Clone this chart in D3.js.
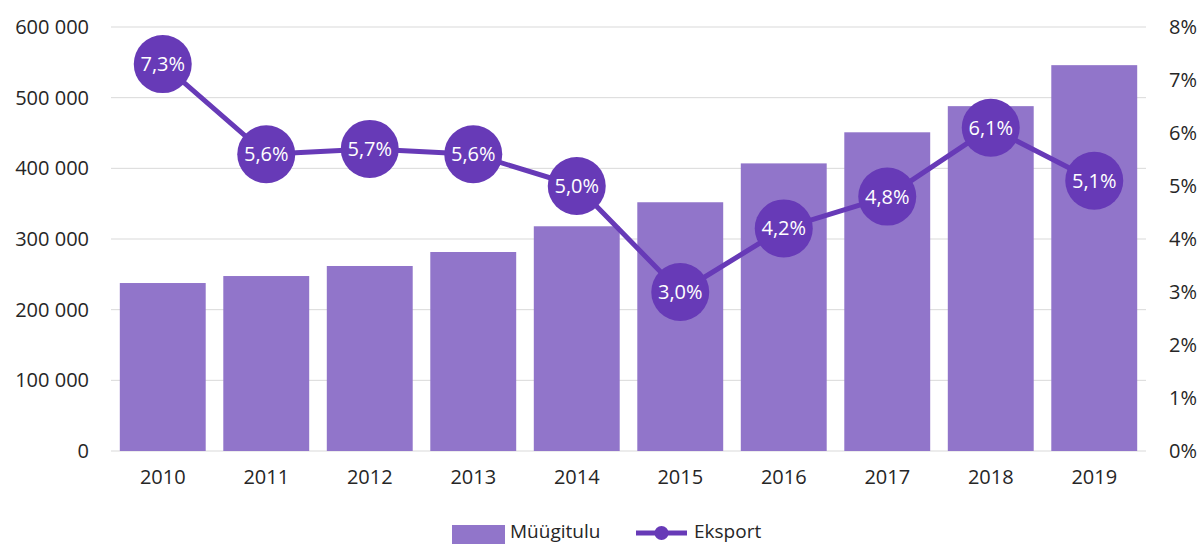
<!DOCTYPE html>
<html><head><meta charset="utf-8">
<script src="https://cdn.jsdelivr.net/npm/d3@7"></script>
<style>body{margin:0;background:#fff}svg{display:block;font-family:"Open Sans",sans-serif}</style>
</head><body><svg id="c" width="1200" height="544"></svg>
<script>
const years = ["2010","2011","2012","2013","2014","2015","2016","2017","2018","2019"];
const sales = [237700,247600,261800,281600,318000,352000,407000,451000,488000,546000];
const exportPct = [7.3,5.6,5.7,5.6,5.0,3.0,4.2,4.8,6.1,5.1];
const leftTicks = [0,100000,200000,300000,400000,500000,600000];
const rightTicks = [0,1,2,3,4,5,6,7,8];
const seriesNames = ["Müügitulu","Eksport"];

const svg = d3.select("#c");
const L=111, R=1146, T=27, B=451;
const x = d3.scaleBand().domain(years).range([L,R]).paddingInner(0.17).paddingOuter(0.085);
const y = d3.scaleLinear().domain([0,600000]).range([B,T]);
const y2 = d3.scaleLinear().domain([0,8]).range([B,T]);
const barColor="#9175ca", lineColor="#673ab7";
const fmt = v => d3.format(",")(v).replace(/,/g," ");

svg.append("g").selectAll("line").data(leftTicks).join("line")
  .attr("x1",L).attr("x2",R).attr("y1",d=>y(d)).attr("y2",d=>y(d))
  .attr("stroke","#d9d9d9").attr("stroke-width",1);

const ga = svg.append("g").attr("transform",`translate(${L},0)`)
  .call(d3.axisLeft(y).tickValues(leftTicks).tickFormat(fmt).tickSize(0).tickPadding(22));
ga.select(".domain").remove();
ga.selectAll("text").attr("font-size",20).attr("fill","#262626").attr("font-family","Open Sans");

const gr = svg.append("g").attr("transform",`translate(${R},0)`)
  .call(d3.axisRight(y2).tickValues(rightTicks).tickFormat(d=>d+"%").tickSize(0).tickPadding(23));
gr.select(".domain").remove();
gr.selectAll("text").attr("font-size",20).attr("fill","#262626").attr("font-family","Open Sans");

const gx = svg.append("g").attr("transform",`translate(0,${B})`)
  .call(d3.axisBottom(x).tickSize(0).tickPadding(19));
gx.select(".domain").remove();
gx.selectAll("text").attr("font-size",20).attr("fill","#262626").attr("font-family","Open Sans");

svg.append("g").selectAll("rect").data(years).join("rect")
  .attr("x",d=>x(d)).attr("width",x.bandwidth())
  .attr("y",(d,i)=>y(sales[i])).attr("height",(d,i)=>B-y(sales[i]))
  .attr("fill",barColor);

const cx = d=>x(d)+x.bandwidth()/2;
svg.append("path").datum(years)
  .attr("d",d3.line().x(d=>cx(d)).y((d,i)=>y2(exportPct[i])))
  .attr("fill","none").attr("stroke",lineColor).attr("stroke-width",5).attr("stroke-linejoin","round");

svg.append("g").selectAll("circle").data(years).join("circle")
  .attr("cx",cx).attr("cy",(d,i)=>y2(exportPct[i])).attr("r",29).attr("fill",lineColor);

svg.append("g").selectAll("text").data(years).join("text")
  .attr("x",cx).attr("y",(d,i)=>y2(exportPct[i])).attr("dy","0.35em")
  .attr("text-anchor","middle").attr("font-size",20).attr("fill","#fff")
  .text((d,i)=>d3.format(".1f")(exportPct[i]).replace(".",",")+"%");

// legend
const lg = svg.append("g");
lg.append("rect").attr("x",452).attr("y",525).attr("width",53).attr("height",19).attr("fill",barColor);
lg.append("text").attr("x",510).attr("y",538).attr("font-size",19).attr("fill","#262626").text(seriesNames[0]);
lg.append("line").attr("x1",636).attr("x2",687).attr("y1",533).attr("y2",533).attr("stroke",lineColor).attr("stroke-width",5);
lg.append("circle").attr("cx",661.5).attr("cy",533).attr("r",7).attr("fill",lineColor);
lg.append("text").attr("x",694).attr("y",538).attr("font-size",19).attr("fill","#262626").text(seriesNames[1]);
</script></body></html>
